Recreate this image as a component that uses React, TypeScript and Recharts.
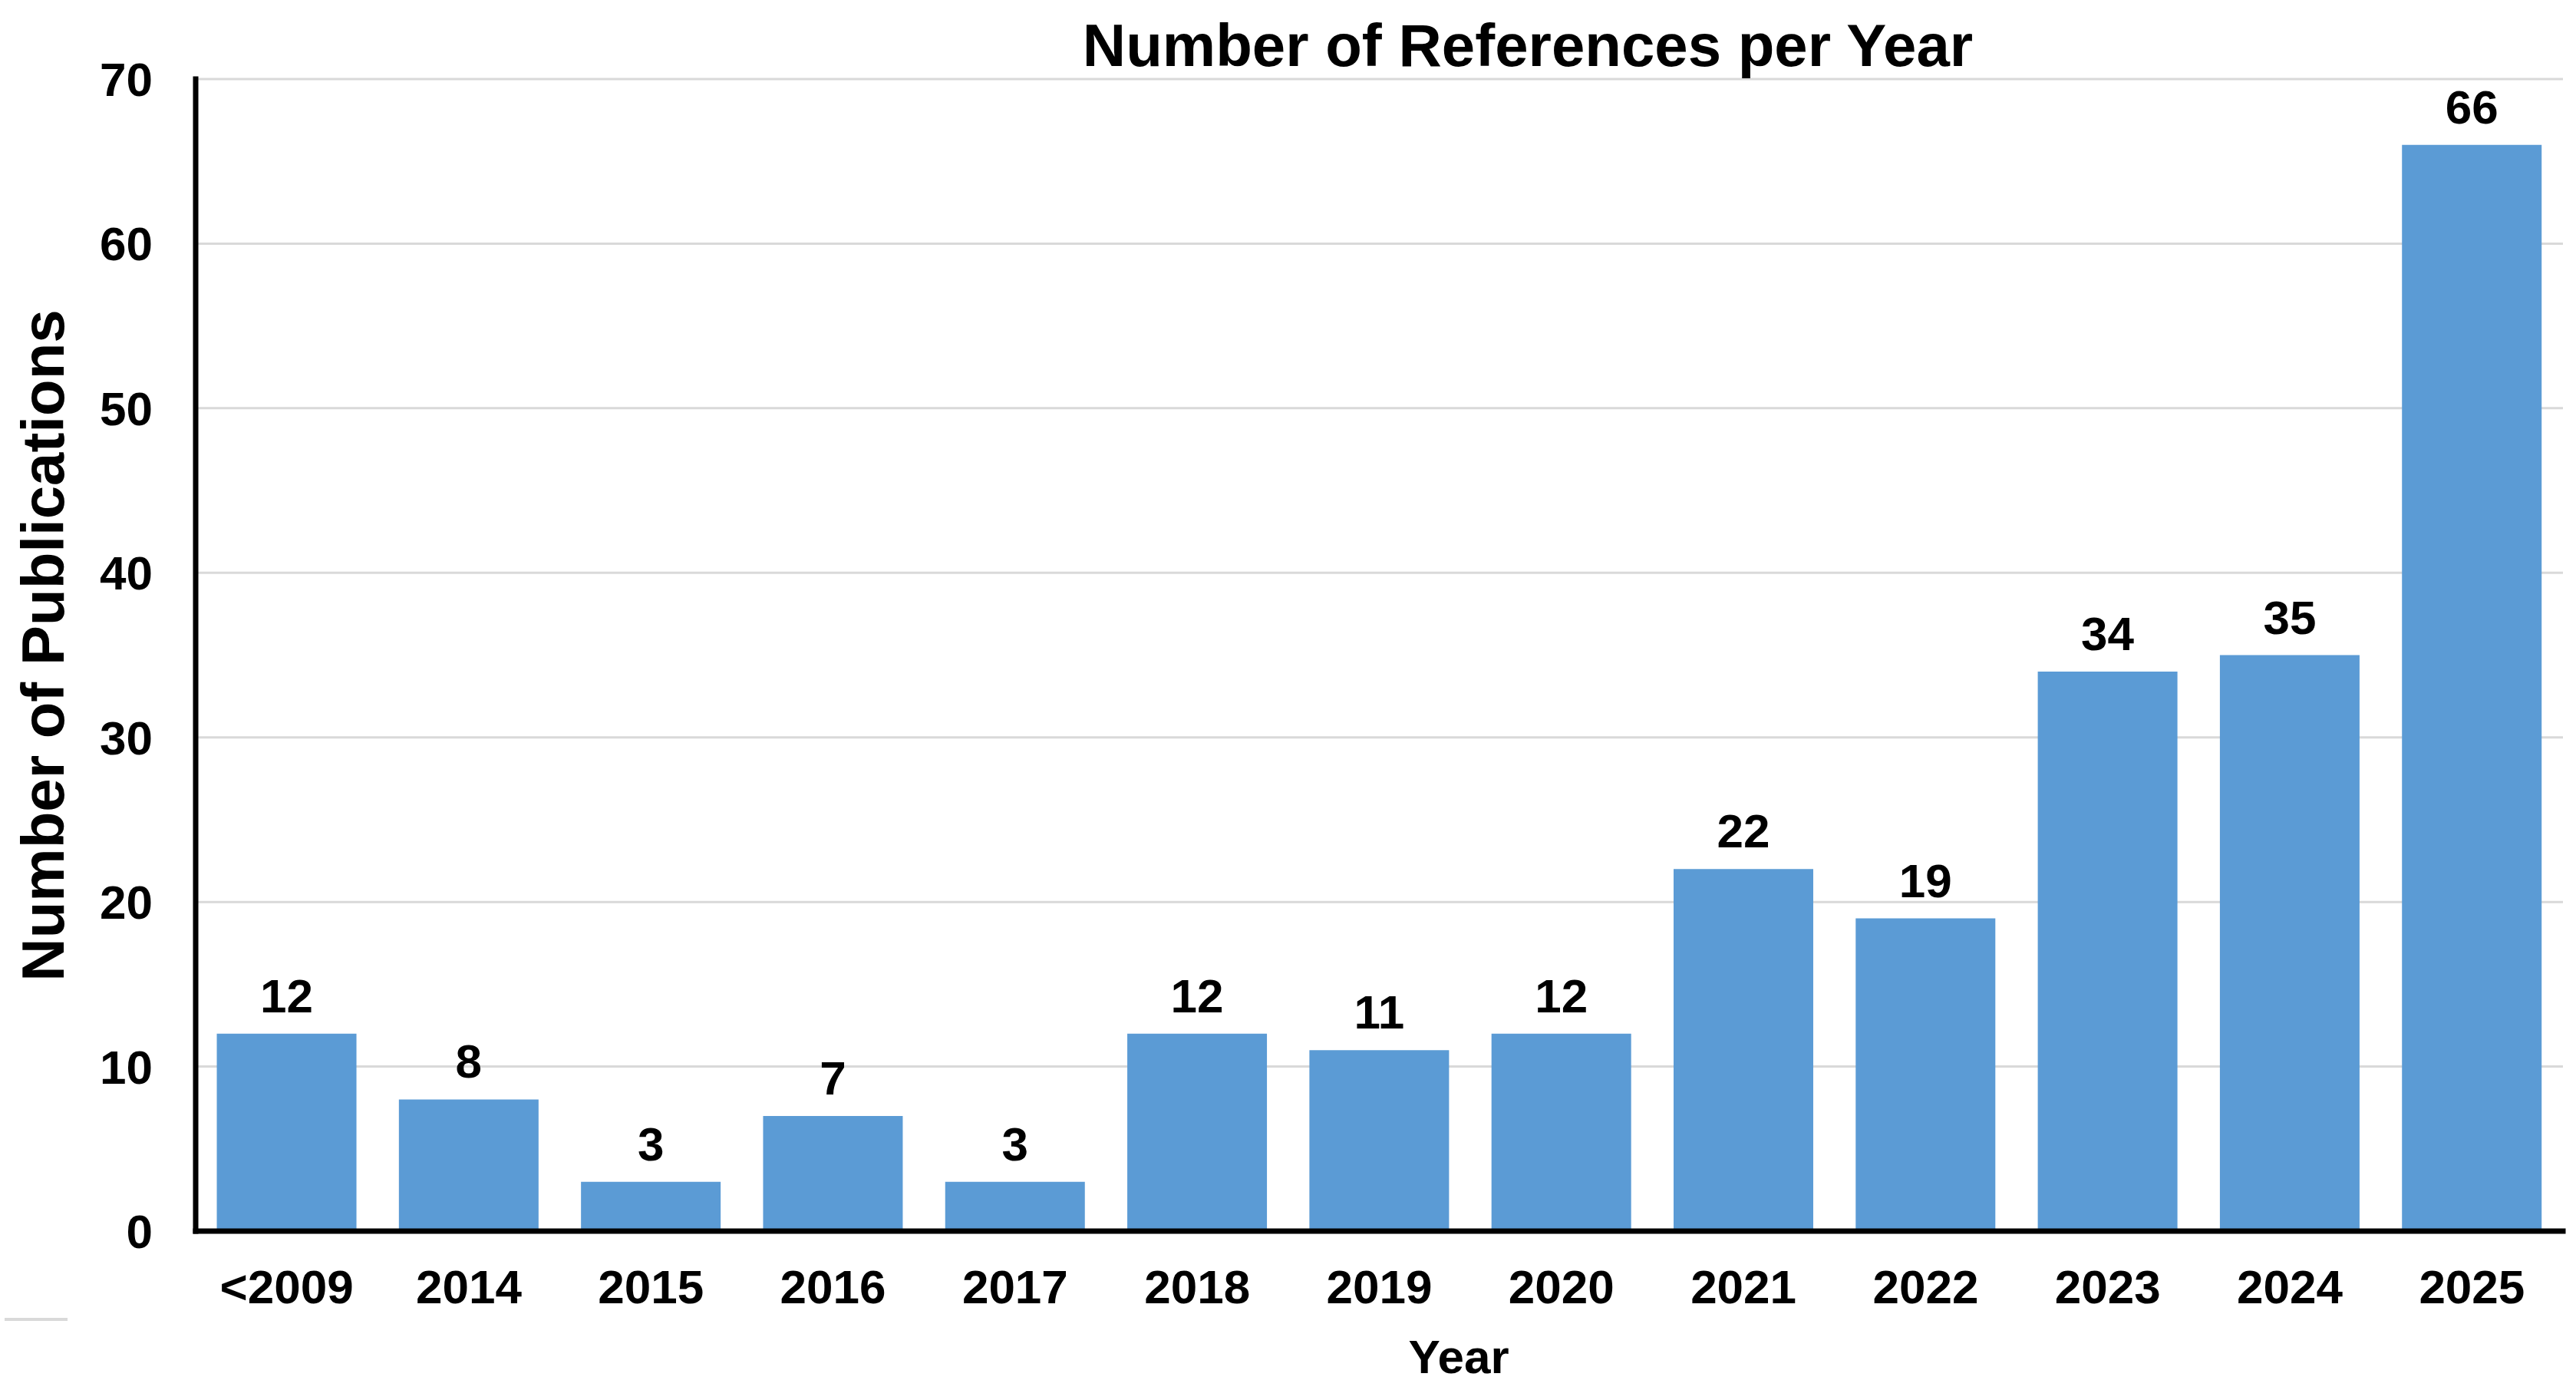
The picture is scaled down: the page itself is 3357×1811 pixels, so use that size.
import { BarChart, Bar, XAxis, YAxis, CartesianGrid, LabelList } from 'recharts'

const years = ['<2009', '2014', '2015', '2016', '2017', '2018', '2019', '2020', '2021', '2022', '2023', '2024', '2025']
const publications = [12, 8, 3, 7, 3, 12, 11, 12, 22, 19, 34, 35, 66]
const yTicks = [0, 10, 20, 30, 40, 50, 60, 70]

const data = years.map((year, i) => ({ year, count: publications[i] }))

const FONT = '"Liberation Sans", Arial, sans-serif'
const W = 3357
const H = 1811

const tickStyle = { fill: '#000', fontSize: 62, fontWeight: 700, fontFamily: FONT }

export default function App() {
  return (
    <div
      style={{
        position: 'absolute',
        left: 0,
        top: 0,
        width: W,
        height: H,
        background: '#fff',
        fontFamily: FONT,
        fontWeight: 700,
        color: '#000',
        overflow: 'hidden',
      }}
    >
      <BarChart
        width={W}
        height={H}
        data={data}
        margin={{ top: 103, right: 17, bottom: 0, left: 55 }}
        barCategoryGap="11.6%"
      >
        <CartesianGrid vertical={false} stroke="#D9D9D9" strokeWidth={3} />
        <XAxis
          dataKey="year"
          height={207}
          interval={0}
          tickLine={false}
          tickSize={0}
          tickMargin={50}
          axisLine={{ stroke: '#000', strokeWidth: 7, strokeLinecap: 'square' }}
          tick={tickStyle}
        />
        <YAxis
          width={200}
          domain={[0, 70]}
          ticks={yTicks}
          interval={0}
          tickLine={false}
          tickSize={0}
          tickMargin={56}
          axisLine={{ stroke: '#000', strokeWidth: 7, strokeLinecap: 'square' }}
          tick={tickStyle}
        />
        <Bar dataKey="count" fill="#5B9BD5" isAnimationActive={false}>
          <LabelList
            dataKey="count"
            position="top"
            offset={28}
            fill="#000"
            fontSize={62}
            fontWeight={700}
            fontFamily={FONT}
          />
        </Bar>
      </BarChart>

      {/* title and axis titles */}
      <div
        style={{
          position: 'absolute',
          left: 1991,
          top: 20,
          transform: 'translateX(-50%)',
          fontSize: 78,
          lineHeight: 1,
          whiteSpace: 'nowrap',
        }}
      >
        Number of References per Year
      </div>
      <div
        style={{
          position: 'absolute',
          left: 56,
          top: 841,
          transform: 'translate(-50%, -50%) rotate(-90deg)',
          fontSize: 78,
          lineHeight: 1,
          whiteSpace: 'nowrap',
        }}
      >
        Number of Publications
      </div>
      <div
        style={{
          position: 'absolute',
          left: 1901,
          top: 1737,
          transform: 'translateX(-50%)',
          fontSize: 62,
          lineHeight: 1,
          whiteSpace: 'nowrap',
        }}
      >
        Year
      </div>
      <div style={{ position: 'absolute', left: 6, top: 1717, width: 82, height: 4, background: '#D9D9D9' }} />
    </div>
  )
}
